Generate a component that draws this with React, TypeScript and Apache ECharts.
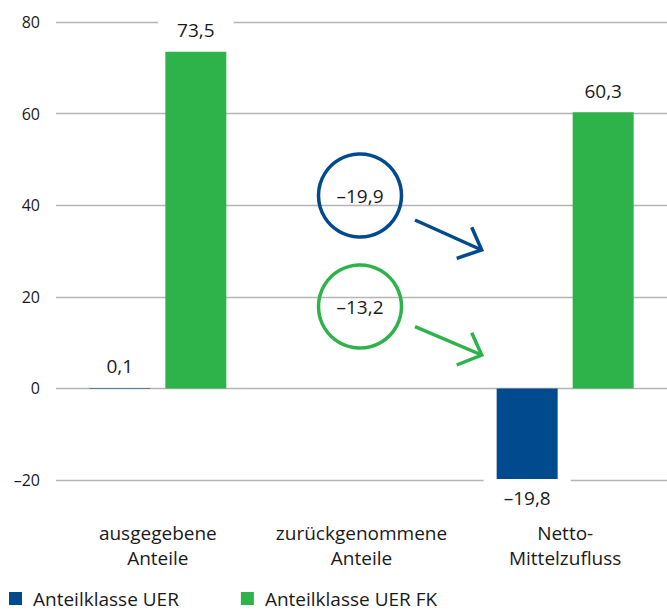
import React, { useEffect, useRef } from "react";
import * as echarts from "echarts";

// Mittelbewegungen je Anteilklasse (Mio. EUR)
const categories = ["ausgegebene\nAnteile", "zurückgenommene\nAnteile", "Netto-\nMittelzufluss"];
const seriesNames = ["Anteilklasse UER", "Anteilklasse UER FK"];
const uerValues: (number | null)[] = [0.1, null, -19.8];
const fkValues: (number | null)[] = [73.5, null, 60.3];
// Rücknahmen, als Kreis-Anmerkung dargestellt
const redemptions = [-19.9, -13.2];
const yMin = -20;
const yMax = 80;
const yStep = 20;

const BLUE = "#004a8d";
const GREEN = "#2eb34b";
const TEXT = "#1a1a1a";
const FONT = "'Open Sans', 'Noto Sans', sans-serif";

const fmt = (v: number) => (v < 0 ? "–" : "") + Math.abs(v).toFixed(1).replace(".", ",");

const topLabel = {
  show: true,
  position: "top",
  distance: 6,
  color: TEXT,
  fontSize: 19,
  lineHeight: 19,
  fontFamily: FONT,
  backgroundColor: "#ffffff",
  padding: [0, 19, 6, 19],
  formatter: (p: any) => fmt(p.value),
};

const bottomLabel = {
  ...topLabel,
  position: "bottom",
  distance: 0,
  padding: [9, 20, 12, 20],
};

const toItems = (vals: (number | null)[]) =>
  vals.map((v) =>
    v === null ? null : { value: v, label: v < 0 ? bottomLabel : topLabel }
  );

export default function App() {
  const ref = useRef<HTMLDivElement>(null);

  useEffect(() => {
    if (!ref.current) return;
    const chart = echarts.init(ref.current, undefined, { renderer: "svg" });

    const circle = (cx: number, cy: number, color: string, value: number) => [
      {
        type: "circle",
        shape: { cx, cy, r: 41.5 },
        style: { fill: "none", stroke: color, lineWidth: 3.5 },
        z: 10,
      },
      {
        type: "text",
        x: cx,
        y: cy,
        style: {
          text: fmt(value),
          fill: TEXT,
          font: `19px ${FONT}`,
          textAlign: "center",
          textVerticalAlign: "middle",
        },
        z: 11,
      },
    ];

    const arrow = (x0: number, y0: number, x1: number, y1: number, color: string, head: number[][]) => [
      {
        type: "line",
        shape: { x1: x0, y1: y0, x2: x1, y2: y1 },
        style: { stroke: color, lineWidth: 3.5 },
        z: 10,
      },
      {
        type: "polyline",
        shape: { points: head },
        style: { stroke: color, lineWidth: 3.5, fill: "none" },
        z: 10,
      },
    ];

    chart.setOption({
      animation: false,
      textStyle: { fontFamily: FONT, color: TEXT },
      grid: { left: 56, right: -3, top: 22, bottom: 134, containLabel: false },
      legend: {
        left: 9,
        top: 589,
        padding: 0,
        icon: "rect",
        itemWidth: 13,
        itemHeight: 13,
        itemGap: 62,
        textStyle: {
          fontSize: 19,
          lineHeight: 19,
          color: TEXT,
          fontFamily: FONT,
          padding: [0, 0, 0, 6],
        },
        data: seriesNames,
      },
      xAxis: {
        type: "category",
        data: categories,
        axisLine: { show: false, onZero: false },
        axisTick: { show: false },
        axisLabel: {
          margin: 40,
          fontSize: 19,
          lineHeight: 25,
          color: TEXT,
          fontFamily: FONT,
          interval: 0,
        },
      },
      yAxis: {
        type: "value",
        min: yMin,
        max: yMax,
        interval: yStep,
        axisLine: { show: false },
        axisTick: { show: false },
        splitLine: { lineStyle: { color: "#b5b5b5", width: 1.4 } },
        axisLabel: {
          margin: 16,
          fontSize: 16,
          color: TEXT,
          fontFamily: FONT,
          formatter: (v: number) => (v < 0 ? "–" : "") + Math.abs(v),
        },
      },
      series: [
        {
          name: seriesNames[0],
          type: "bar",
          data: toItems(uerValues),
          barWidth: 61,
          barGap: "24.6%",
          itemStyle: { color: BLUE },
        },
        {
          name: seriesNames[1],
          type: "bar",
          data: toItems(fkValues),
          barWidth: 61,
          barGap: "24.6%",
          itemStyle: { color: GREEN },
        },
      ],
      graphic: [
        ...circle(360, 195.5, BLUE, redemptions[0]),
        ...arrow(415, 220, 481.7, 250, BLUE, [
          [471.7, 227.3],
          [481.7, 250],
          [456.7, 258.3],
        ]),
        ...circle(360, 306.5, GREEN, redemptions[1]),
        ...arrow(415, 326.7, 481.7, 355, GREEN, [
          [471.7, 332.7],
          [481.7, 355],
          [456.7, 365],
        ]),
      ],
    });

    return () => chart.dispose();
  }, []);

  return (
    <div
      ref={ref}
      style={{ position: "absolute", left: 0, top: 0, width: 667, height: 614 }}
    />
  );
}
